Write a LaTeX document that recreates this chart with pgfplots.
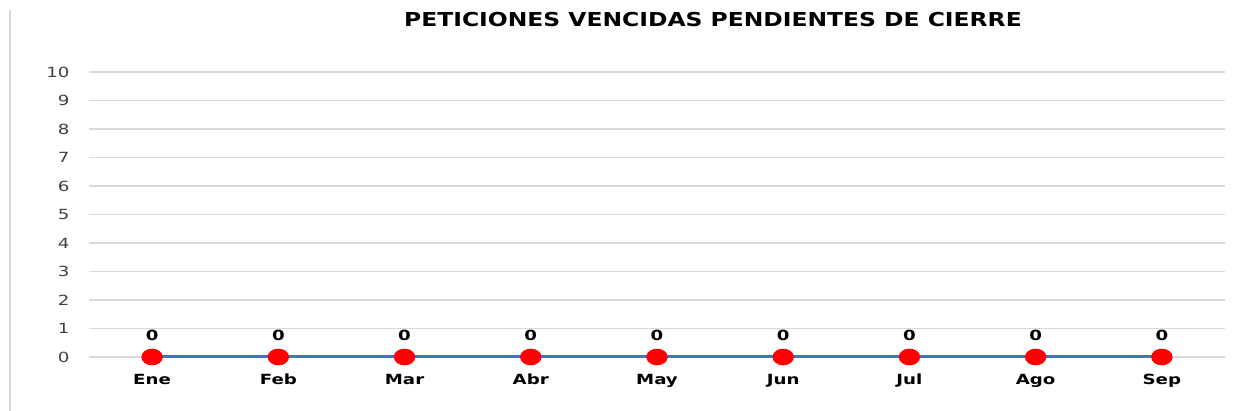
\documentclass[border=0pt]{standalone}
\usepackage{pgfplots}
\pgfplotsset{compat=1.18}
\usepackage{fontspec}
\setmainfont{DejaVu Sans}
\definecolor{gridc}{RGB}{217,217,217}
\definecolor{linec}{RGB}{68,114,196}
\definecolor{txt}{RGB}{64,64,64}
\begin{document}
\begin{tikzpicture}
\useasboundingbox (0,0) rectangle (616.5pt,205.5pt);
\draw[gridc, line width=1pt] (5pt,0) -- (5pt,200.5pt);
\node[font=\bfseries\fontsize{9.6}{11}\selectfont, xscale=1.22] at (356.5pt,195.5pt) {PETICIONES VENCIDAS PENDIENTES DE CIERRE};
\begin{axis}[
  at={(44.5pt,27pt)}, anchor=south west,
  scale only axis, width=568pt, height=142.5pt,
  xmin=-0.5, xmax=8.5, ymin=0, ymax=10,
  xtick=data, xticklabels={Ene,Feb,Mar,Abr,May,Jun,Jul,Ago,Sep},
  ytick={0,1,...,10},
  axis line style={draw=none},
  major tick length=0pt,
  ymajorgrids, grid style={gridc, line width=0.6pt},
  clip=false,
  /pgf/number format/assume math mode=true,
  yticklabel style={font=\fontsize{7}{8}\selectfont, text=txt, xscale=1.3, xshift=-4pt},
  xticklabel style={font=\bfseries\fontsize{7}{8}\selectfont, xscale=1.3, yshift=-5pt},
  nodes near coords, nodes near coords style={font=\bfseries\fontsize{7}{8}\selectfont, text=black, xscale=1.3, yshift=4pt},
]
\addplot[linec, line width=1.5pt, mark=*, mark size=3.4pt,
  mark options={fill=red, draw=red, xscale=1.35}]
  coordinates {(0,0) (1,0) (2,0) (3,0) (4,0) (5,0) (6,0) (7,0) (8,0)};
\end{axis}
\end{tikzpicture}
\end{document}
